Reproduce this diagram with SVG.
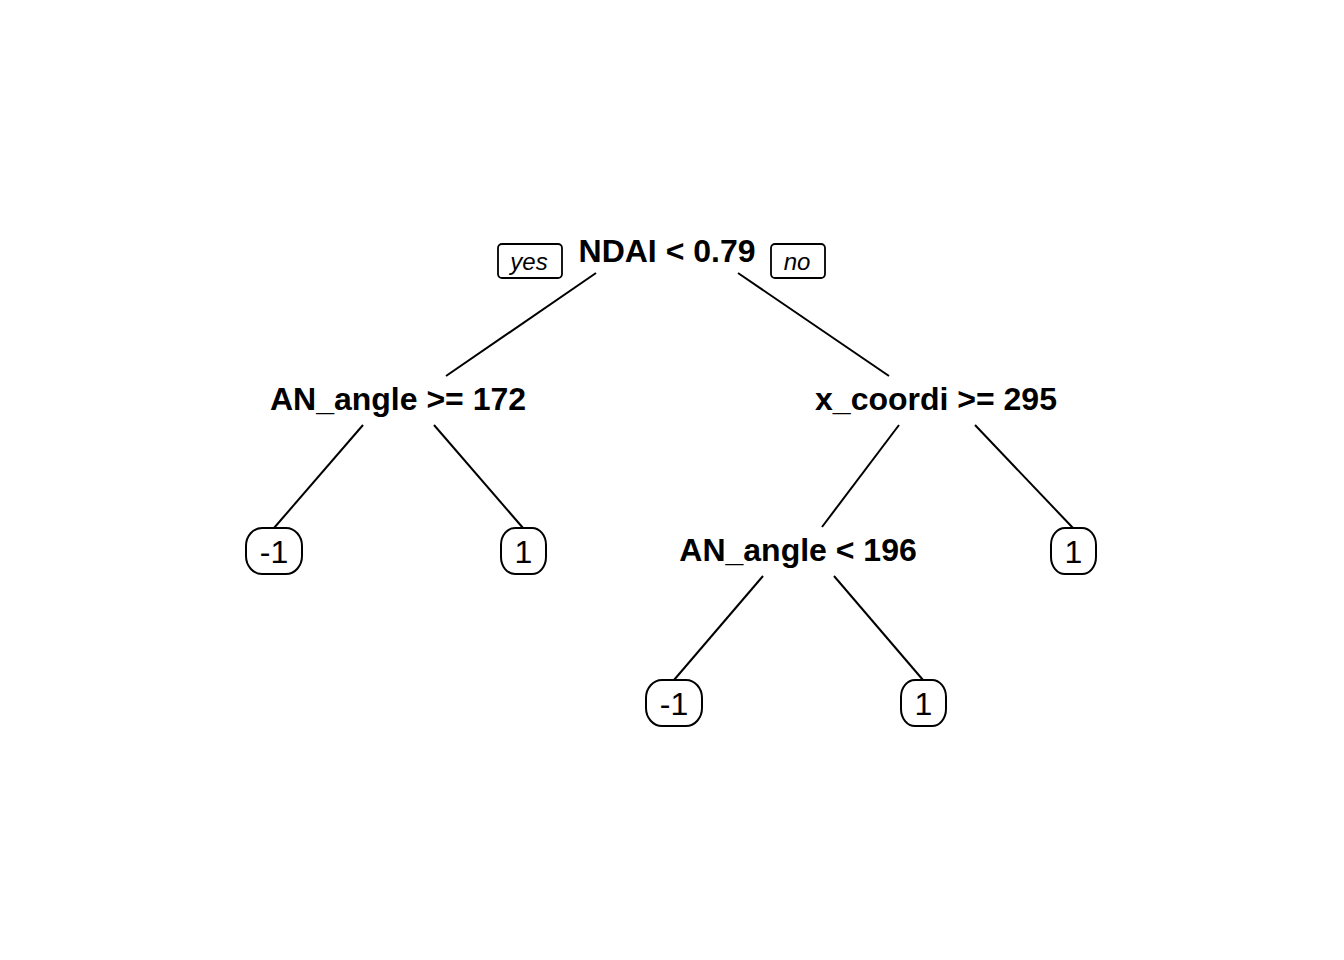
<svg xmlns="http://www.w3.org/2000/svg" width="1344" height="960" viewBox="0 0 1344 960">
<style>
.split{font-family:"Liberation Sans",Arial,sans-serif;font-weight:bold;font-size:32px;fill:#000;text-anchor:middle}
.leaf text{font-family:"Liberation Sans",Arial,sans-serif;font-size:32px;fill:#000;text-anchor:middle}
.leaf rect{fill:#fff;stroke:#000;stroke-width:2}
.lab rect{fill:#fff;stroke:#000;stroke-width:1.8}
.lab text{font-family:"Liberation Sans",Arial,sans-serif;font-style:italic;font-size:24px;fill:#000;text-anchor:middle}
#connectors line{stroke:#000;stroke-width:2}
</style>
<rect width="1344" height="960" fill="#fff"/>
<g id="connectors">
<line x1="596" y1="273" x2="446" y2="376"/>
<line x1="738" y1="273" x2="889" y2="376"/>
<line x1="363" y1="425" x2="274" y2="528"/>
<line x1="434" y1="425" x2="523" y2="528"/>
<line x1="899" y1="425" x2="822" y2="527"/>
<line x1="975" y1="425" x2="1073" y2="528"/>
<line x1="763" y1="576" x2="674" y2="680"/>
<line x1="834" y1="576" x2="923" y2="680"/>
</g>
<g id="root">
<text class="split" x="667" y="262">NDAI &lt; 0.79</text>
</g>
<g id="yes" class="lab">
<rect x="498" y="244" width="64" height="34" rx="4"/>
<text x="529" y="270">yes</text>
</g>
<g id="no" class="lab">
<rect x="771" y="244" width="54" height="34" rx="4"/>
<text x="797" y="270">no</text>
</g>
<g id="n2">
<text class="split" x="398" y="410">AN_angle &gt;= 172</text>
</g>
<g id="n3">
<text class="split" x="936" y="410">x_coordi &gt;= 295</text>
</g>
<g id="n6">
<text class="split" x="798" y="561">AN_angle &lt; 196</text>
</g>
<g id="leaf4" class="leaf">
<rect x="246" y="528" width="56" height="46" rx="16" ry="18"/>
<text x="274" y="563">-1</text>
</g>
<g id="leaf5" class="leaf">
<rect x="501" y="528" width="45" height="46" rx="14" ry="17"/>
<text x="523.5" y="563">1</text>
</g>
<g id="leaf7" class="leaf">
<rect x="1051" y="528" width="45" height="46" rx="14" ry="17"/>
<text x="1073.5" y="563">1</text>
</g>
<g id="leaf12" class="leaf">
<rect x="646" y="680" width="56" height="46" rx="16" ry="18"/>
<text x="674" y="715">-1</text>
</g>
<g id="leaf13" class="leaf">
<rect x="901" y="680" width="45" height="46" rx="14" ry="17"/>
<text x="923.5" y="715">1</text>
</g>
</svg>
